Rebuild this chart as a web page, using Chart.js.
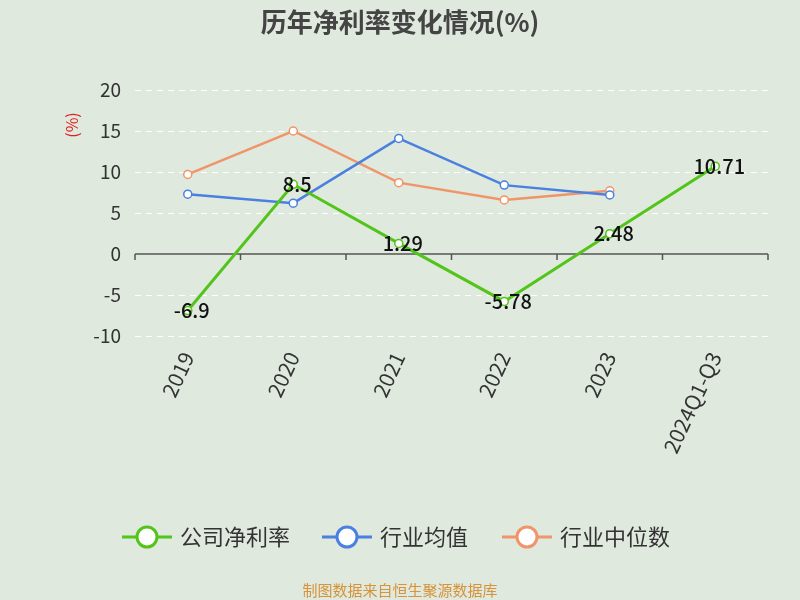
<!DOCTYPE html>
<html>
<head>
<meta charset="utf-8">
<script src="https://cdn.jsdelivr.net/npm/chart.js@4"></script>
<style>
  html, body { margin: 0; padding: 0; background: #dfe9de; }
  #wrap { width: 800px; height: 600px; }
</style>
</head>
<body>
<div id="wrap"><canvas id="c" width="800" height="600"></canvas></div>
<script>
// --- Data ---
const years = ['2019', '2020', '2021', '2022', '2023', '2024Q1-Q3'];
const companyMargin = [-6.9, 8.5, 1.29, -5.78, 2.48, 10.71];
const industryAvg = [7.3, 6.2, 14.1, 8.4, 7.2, null];
const industryMedian = [9.7, 15.0, 8.7, 6.6, 7.7, null];
const yTicks = [-10, -5, 0, 5, 10, 15, 20];

const FONT = '"Noto Sans CJK SC", "Noto Sans", sans-serif';

// zero line with tick marks, labels on company series, title, legend, footer
const decor = {
    id: 'decor',
    beforeDatasetsDraw(chart) {
        const ctx = chart.ctx;
        const area = chart.chartArea;
        const y0 = chart.scales.y.getPixelForValue(0);
        ctx.save();
        ctx.strokeStyle = '#555';
        ctx.lineWidth = 1.5;
        ctx.beginPath();
        ctx.moveTo(area.left, y0);
        ctx.lineTo(area.right, y0);
        const step = (area.right - area.left) / years.length;
        for (let i = 0; i <= years.length; i++) {
            const x = area.left + step * i;
            ctx.moveTo(x, y0);
            ctx.lineTo(x, y0 + 6);
        }
        ctx.stroke();
        ctx.restore();
    },
    afterDatasetsDraw(chart) {
        const ctx = chart.ctx;
        const meta = chart.getDatasetMeta(0);
        ctx.save();
        ctx.font = '500 20px ' + FONT;
        ctx.fillStyle = '#111';
        ctx.textAlign = 'center';
        ctx.textBaseline = 'middle';
        meta.data.forEach((pt, i) => {
            ctx.fillText(String(companyMargin[i]), pt.x + 4, pt.y);
        });
        ctx.restore();
    },
    afterDraw(chart) {
        const ctx = chart.ctx;
        ctx.save();
        ctx.font = 'bold 26px ' + FONT;
        ctx.fillStyle = '#444';
        ctx.textAlign = 'center';
        ctx.textBaseline = 'middle';
        ctx.fillText('历年净利率变化情况(%)', 400, 22);
        ctx.save();
        ctx.translate(72, 125);
        ctx.rotate(-Math.PI / 2);
        ctx.font = '16px ' + FONT;
        ctx.fillStyle = '#d22';
        ctx.fillText('(%)', 0, 0);
        ctx.restore();
        const items = [
            { x: 122, text: '公司净利率', color: '#52c41a' },
            { x: 322, text: '行业均值', color: '#4a80e0' },
            { x: 502, text: '行业中位数', color: '#f0956a' }
        ];
        ctx.font = '22px ' + FONT;
        ctx.textAlign = 'left';
        items.forEach(it => {
            ctx.strokeStyle = it.color;
            ctx.lineWidth = 3;
            ctx.beginPath();
            ctx.moveTo(it.x, 537);
            ctx.lineTo(it.x + 50, 537);
            ctx.stroke();
            ctx.beginPath();
            ctx.arc(it.x + 25, 537, 10, 0, Math.PI * 2);
            ctx.fillStyle = '#fff';
            ctx.fill();
            ctx.stroke();
            ctx.fillStyle = '#333';
            ctx.fillText(it.text, it.x + 58, 537);
        });
        ctx.font = '15px ' + FONT;
        ctx.fillStyle = '#d8923a';
        ctx.textAlign = 'center';
        ctx.fillText('制图数据来自恒生聚源数据库', 400, 590);
        ctx.restore();
    }
};

const ctx = document.getElementById('c').getContext('2d');
new Chart(ctx, {
    type: 'line',
    data: {
        labels: years,
        datasets: [
            { label: '公司净利率', data: companyMargin, borderColor: '#52c41a', backgroundColor: '#fff',
              borderWidth: 3, pointRadius: 4, pointBorderWidth: 1.5, tension: 0 },
            { label: '行业均值', data: industryAvg, borderColor: '#4a80e0', backgroundColor: '#fff',
              borderWidth: 2.5, pointRadius: 4, pointBorderWidth: 1.5, tension: 0 },
            { label: '行业中位数', data: industryMedian, borderColor: '#f0956a', backgroundColor: '#fff',
              borderWidth: 2.5, pointRadius: 4, pointBorderWidth: 1.5, tension: 0 }
        ]
    },
    options: {
        responsive: false,
        animation: false,
        layout: { padding: { top: 90, right: 32, bottom: 0, left: 0 } },
        plugins: { legend: { display: false }, tooltip: { enabled: false } },
        scales: {
            x: {
                offset: true,
                afterFit: s => { s.height = 264; },
                grid: { display: false, drawTicks: false },
                border: { display: false },
                ticks: { color: '#333', font: { size: 21, family: FONT }, maxRotation: 65, minRotation: 65, padding: 12 }
            },
            y: {
                min: -10, max: 20,
                afterFit: s => { s.width = 135; },
                afterBuildTicks: s => { s.ticks = yTicks.map(v => ({ value: v })); },
                border: { display: false, dash: [6, 5] },
                grid: {
                    color: c => c.tick.value === 0 ? 'rgba(0,0,0,0)' : '#fff',
                    lineWidth: 1,
                    drawTicks: false
                },
                ticks: { color: '#333', font: { size: 19, family: FONT }, padding: 14 }
            }
        }
    },
    plugins: [decor]
});
</script>
</body>
</html>
